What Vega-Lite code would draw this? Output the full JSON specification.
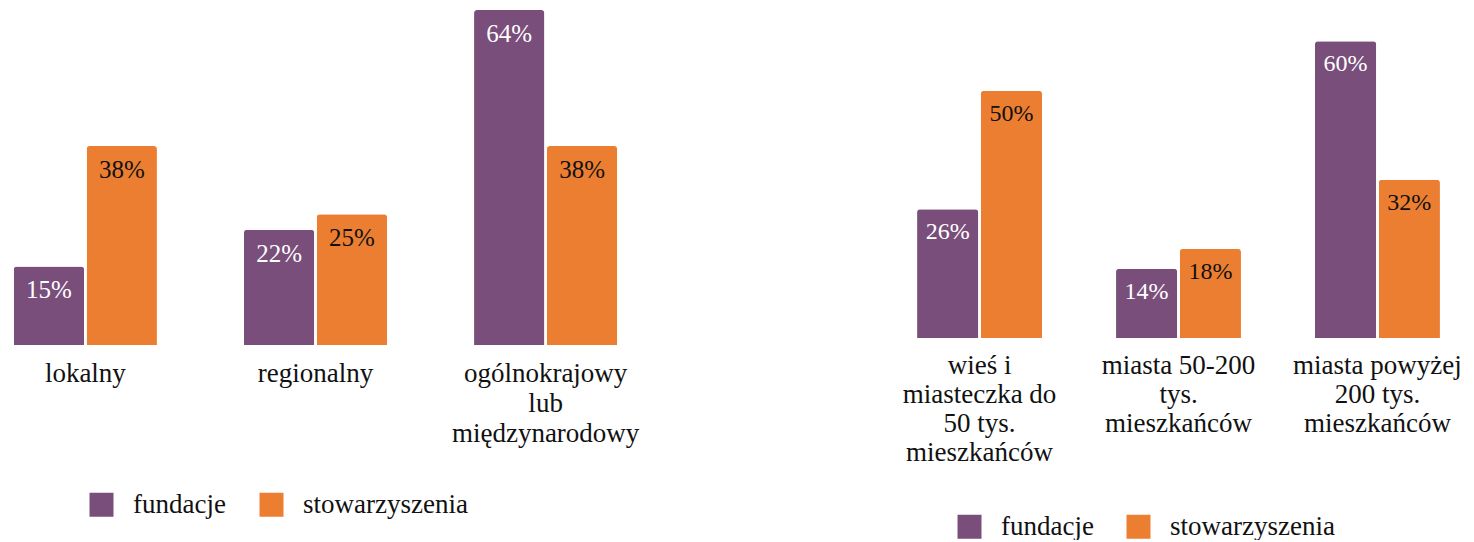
{
  "$schema": "https://vega.github.io/schema/vega-lite/v6.json",
  "padding": {"left": 0, "top": 10, "right": 0, "bottom": 0},
  "background": "white",
  "spacing": 259,
  "bounds": "flush",
  "config": {
    "view": {"stroke": null},
    "font": "'Liberation Serif', 'Times New Roman', serif",
    "axis": {"labelFont": "'Liberation Serif', 'Times New Roman', serif", "labelColor": "#111111"},
    "legend": {"labelFont": "'Liberation Serif', 'Times New Roman', serif", "labelColor": "#111111"}
  },
  "resolve": {"scale": {"color": "independent", "x": "independent", "xOffset": "independent", "y": "independent"}},
  "hconcat": [
    {
      "width": 631,
      "height": 335,
      "data": {"values": [
        {"kategoria": "lokalny", "typ": "fundacje", "wartosc": 0.15},
        {"kategoria": "lokalny", "typ": "stowarzyszenia", "wartosc": 0.38},
        {"kategoria": "regionalny", "typ": "fundacje", "wartosc": 0.22},
        {"kategoria": "regionalny", "typ": "stowarzyszenia", "wartosc": 0.25},
        {"kategoria": "ogólnokrajowy\nlub\nmiędzynarodowy", "typ": "fundacje", "wartosc": 0.64},
        {"kategoria": "ogólnokrajowy\nlub\nmiędzynarodowy", "typ": "stowarzyszenia", "wartosc": 0.38}
      ]},
      "encoding": {
        "x": {"field": "kategoria", "type": "nominal", "sort": null,
          "scale": {"paddingInner": 0.378, "paddingOuter": 0.06},
          "axis": {"title": null, "labelAngle": 0, "domain": false, "ticks": false,
            "labelFontSize": 27, "labelLineHeight": 30, "labelPadding": 15,
            "labelExpr": "split(datum.label, '\\n')", "labelLimit": 400}},
        "xOffset": {"field": "typ", "type": "nominal", "scale": {"paddingInner": 0.035}},
        "y": {"field": "wartosc", "type": "quantitative", "scale": {"domain": [0, 0.64], "nice": false}, "axis": null}
      },
      "layer": [
        {
          "mark": {"type": "bar", "cornerRadiusTopLeft": 3, "cornerRadiusTopRight": 3},
          "encoding": {
            "color": {"field": "typ", "type": "nominal",
              "scale": {"domain": ["fundacje", "stowarzyszenia"], "range": ["#794E7B", "#EC7E32"]},
              "legend": {"title": null, "orient": "none", "legendX": 88, "legendY": 481, "direction": "horizontal",
                "symbolType": "square", "symbolSize": 576, "symbolStrokeWidth": 0, "labelFontSize": 27,
                "labelOffset": 18, "columnPadding": 32, "labelLimit": 400}}
          }
        },
        {
          "mark": {"type": "text", "baseline": "middle", "dy": 24, "fontSize": 25, "font": "'Liberation Serif', 'Times New Roman', serif"},
          "encoding": {
            "text": {"field": "wartosc", "type": "quantitative", "format": ".0%"},
            "color": {"condition": {"test": "datum.typ === 'fundacje'", "value": "white"}, "value": "#111111"}
          }
        }
      ]
    },
    {
      "width": 577,
      "height": 328,
      "data": {"values": [
        {"kategoria": "wieś i\nmiasteczka do\n50 tys.\nmieszkańców", "typ": "fundacje", "wartosc": 0.26},
        {"kategoria": "wieś i\nmiasteczka do\n50 tys.\nmieszkańców", "typ": "stowarzyszenia", "wartosc": 0.50},
        {"kategoria": "miasta 50-200\ntys.\nmieszkańców", "typ": "fundacje", "wartosc": 0.14},
        {"kategoria": "miasta 50-200\ntys.\nmieszkańców", "typ": "stowarzyszenia", "wartosc": 0.18},
        {"kategoria": "miasta powyżej\n200 tys.\nmieszkańców", "typ": "fundacje", "wartosc": 0.60},
        {"kategoria": "miasta powyżej\n200 tys.\nmieszkańców", "typ": "stowarzyszenia", "wartosc": 0.32}
      ]},
      "encoding": {
        "x": {"field": "kategoria", "type": "nominal", "sort": null,
          "scale": {"paddingInner": 0.372, "paddingOuter": 0.136},
          "axis": {"title": null, "labelAngle": 0, "domain": false, "ticks": false,
            "labelFontSize": 27, "labelLineHeight": 29, "labelPadding": 14,
            "labelExpr": "split(datum.label, '\\n')", "labelLimit": 400}},
        "xOffset": {"field": "typ", "type": "nominal", "scale": {"paddingInner": 0.04}},
        "y": {"field": "wartosc", "type": "quantitative", "scale": {"domain": [0, 0.663], "nice": false}, "axis": null}
      },
      "layer": [
        {
          "mark": {"type": "bar", "cornerRadiusTopLeft": 3, "cornerRadiusTopRight": 3},
          "encoding": {
            "color": {"field": "typ", "type": "nominal",
              "scale": {"domain": ["fundacje", "stowarzyszenia"], "range": ["#794E7B", "#EC7E32"]},
              "legend": {"title": null, "orient": "none", "legendX": 66, "legendY": 503, "direction": "horizontal",
                "symbolType": "square", "symbolSize": 576, "symbolStrokeWidth": 0, "labelFontSize": 27,
                "labelOffset": 18, "columnPadding": 31, "labelLimit": 400}}
          }
        },
        {
          "mark": {"type": "text", "baseline": "middle", "dy": 23, "fontSize": 24, "font": "'Liberation Serif', 'Times New Roman', serif"},
          "encoding": {
            "text": {"field": "wartosc", "type": "quantitative", "format": ".0%"},
            "color": {"condition": {"test": "datum.typ === 'fundacje'", "value": "white"}, "value": "#111111"}
          }
        }
      ]
    }
  ]
}
